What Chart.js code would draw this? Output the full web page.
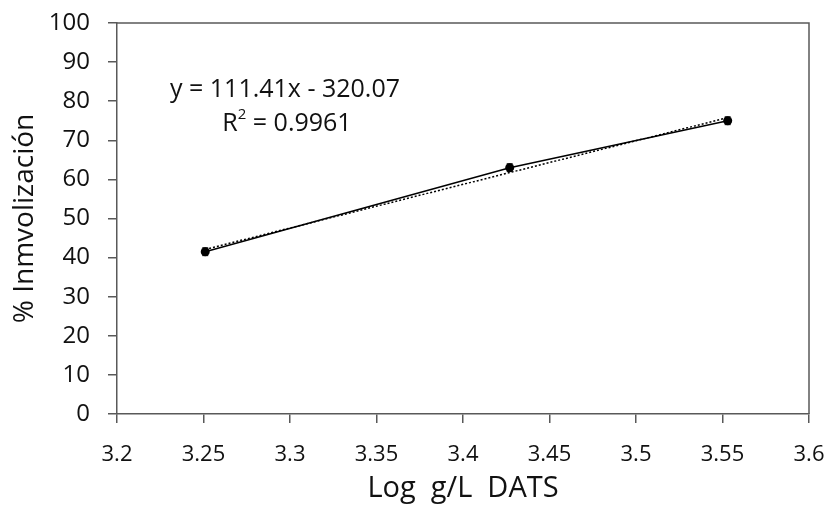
<!DOCTYPE html>
<html>
<head>
<meta charset="utf-8">
<script src="https://cdn.jsdelivr.net/npm/chart.js@4/dist/chart.umd.min.js"></script>
<style>
  html, body { margin: 0; padding: 0; background: #fff; }
  #wrap { width: 826px; height: 506px; }
</style>
</head>
<body>
<div id="wrap"><canvas id="grafico" width="826" height="506"></canvas></div>
<script>
// datos
var logDosis = [3.251, 3.427, 3.553];
var inmovil = [41.5, 63.0, 75.0];
var errores = [1.0, 1.0, 1.0];
// recta de tendencia (extremos)
var tendX = [3.251, 3.553];
var tendY = [42.1, 75.8];
var xTicks = [3.2, 3.25, 3.3, 3.35, 3.4, 3.45, 3.5, 3.55, 3.6];
var xTickLabels = ['3.2', '3.25', '3.3', '3.35', '3.4', '3.45', '3.5', '3.55', '3.6'];
var yTicks = [0, 10, 20, 30, 40, 50, 60, 70, 80, 90, 100];
var ecuacion = 'y = 111.41x - 320.07';
var r2 = '0.9961';

var fuente = "'Open Sans', 'Noto Sans', sans-serif";
var gris = '#595959';

// marco, barras de error y ecuacion
var extras = {
  id: 'extras',
  afterDatasetsDraw: function (chart) {
    var ctx = chart.ctx, a = chart.chartArea;
    var xs = chart.scales.x, ys = chart.scales.y;
    ctx.save();
    ctx.strokeStyle = gris;
    ctx.lineWidth = 1.5;
    ctx.beginPath();
    ctx.moveTo(a.left, a.top); ctx.lineTo(a.right, a.top); ctx.lineTo(a.right, a.bottom);
    ctx.stroke();
    ctx.strokeStyle = '#000';
    ctx.lineWidth = 1;
    for (var i = 0; i < logDosis.length; i++) {
      var px = xs.getPixelForValue(logDosis[i]);
      var y1 = ys.getPixelForValue(inmovil[i] + errores[i]);
      var y2 = ys.getPixelForValue(inmovil[i] - errores[i]);
      ctx.beginPath();
      ctx.moveTo(px, y1); ctx.lineTo(px, y2);
      ctx.moveTo(px - 3, y1); ctx.lineTo(px + 3, y1);
      ctx.moveTo(px - 3, y2); ctx.lineTo(px + 3, y2);
      ctx.stroke();
    }
    ctx.fillStyle = '#111';
    ctx.textAlign = 'center';
    ctx.textBaseline = 'middle';
    ctx.font = '25px ' + fuente;
    ctx.fillText(ecuacion, 285, 90);
    // R^2 con superindice
    var t1 = 'R', t3 = ' = ' + r2;
    var w1 = ctx.measureText(t1).width, w3 = ctx.measureText(t3).width;
    ctx.font = '15px ' + fuente;
    var w2 = ctx.measureText('2').width;
    var x0 = 287 - (w1 + w2 + w3) / 2;
    ctx.textAlign = 'left';
    ctx.font = '25px ' + fuente;
    ctx.fillText(t1, x0, 124);
    ctx.font = '15px ' + fuente;
    ctx.fillText('2', x0 + w1, 115);
    ctx.font = '25px ' + fuente;
    ctx.fillText(t3, x0 + w1 + w2, 124);
    ctx.restore();
  }
};

new Chart(document.getElementById('grafico'), {
  type: 'scatter',
  data: {
    datasets: [{
      label: 'Inmovilizacion',
      data: logDosis.map(function (x, i) { return { x: x, y: inmovil[i] }; }),
      showLine: true,
      borderColor: '#000',
      borderWidth: 1.5,
      backgroundColor: '#000',
      pointRadius: 4.5,
      pointBorderWidth: 0,
      order: 1
    }, {
      label: 'Tendencia',
      data: tendX.map(function (x, i) { return { x: x, y: tendY[i] }; }),
      showLine: true,
      borderColor: '#000',
      borderWidth: 1.5,
      borderDash: [2, 2],
      pointRadius: 0,
      order: 2
    }]
  },
  options: {
    responsive: false,
    animation: false,
    layout: { padding: { top: 23, right: 17, left: 0, bottom: 0 } },
    plugins: { legend: { display: false }, tooltip: { enabled: false } },
    scales: {
      x: {
        type: 'linear',
        min: 3.2, max: 3.6,
        afterBuildTicks: function (s) { s.ticks = xTicks.map(function (v) { return { value: v }; }); },
        afterFit: function (s) { s.height = 92; s.paddingLeft = 0; s.paddingRight = 0; },
        grid: { drawOnChartArea: false, tickLength: 9, color: gris, lineWidth: 1.5 },
        border: { color: gris, width: 1.5 },
        ticks: {
          color: '#111', padding: 19, maxRotation: 0, autoSkip: false,
          font: { family: fuente, size: 22 },
          callback: function (v, i) { return xTickLabels[i]; }
        },
        title: { display: true, text: 'Log  g/L  DATS', color: '#111', font: { family: fuente, size: 29 }, padding: { top: 2, bottom: 0 } }
      },
      y: {
        min: 0, max: 100,
        afterBuildTicks: function (s) { s.ticks = yTicks.map(function (v) { return { value: v }; }); },
        afterFit: function (s) { s.width = 117; s.paddingTop = 0; s.paddingBottom = 0; },
        grid: { drawOnChartArea: false, tickLength: 9, color: gris, lineWidth: 1.5 },
        border: { color: gris, width: 1.5 },
        ticks: { color: '#111', padding: 18, font: { family: fuente, size: 24 } },
        title: { display: true, text: '% Inmvolización', color: '#111', font: { family: fuente, size: 28 }, padding: { top: 8, bottom: 0 } }
      }
    }
  },
  plugins: [extras]
});
</script>
</body>
</html>
